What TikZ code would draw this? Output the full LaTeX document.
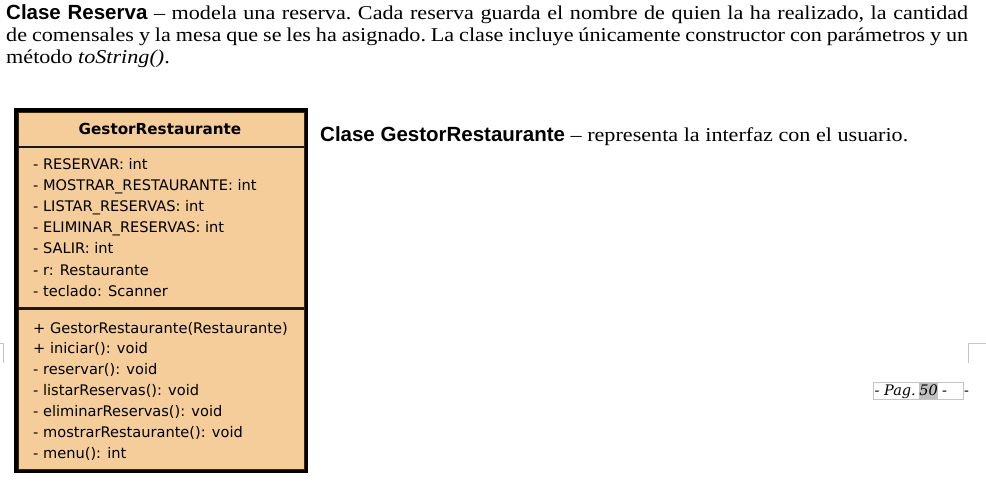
\documentclass[tikz,border=0pt]{standalone}
\usepackage{fontspec}
\setmainfont[FakeStretch=1.13]{Liberation Serif}
\newfontfamily\hsans{Liberation Sans}
\newfontfamily\umlfont{DejaVu Sans}
\newfontfamily\pgfont{DejaVu Serif}
\definecolor{peach}{HTML}{F5CD9A}
\definecolor{markgray}{HTML}{C4C4C4}
\definecolor{hlgray}{HTML}{C0C0C0}
\tikzset{
  bodytext/.style={inner sep=0pt, font=\fontsize{19.6}{22}\selectfont\frenchspacing},
  umltext/.style={inner sep=0pt, anchor=base west, font=\umlfont\fontsize{14.6}{16}\selectfont},
  umlhead/.style={inner sep=0pt, anchor=base, font=\umlfont\bfseries\fontsize{15.2}{16}\selectfont},
  sepline/.style={line width=2.4pt, black!90},
  pagemark/.style={draw=markgray, line width=1pt},
  pgtext/.style={inner sep=0pt, anchor=base west, font=\pgfont\itshape\fontsize{14.5}{16}\selectfont},
}
\begin{document}
\begin{tikzpicture}[x=1pt,y=-1pt]
\useasboundingbox (0,0) rectangle (986,487);

% intro paragraph
\node[bodytext, anchor=north west, text width=962pt, align=justify] (intro) at (6,4)
{{\hsans\bfseries\fontsize{20.5}{22}\selectfont Clase Reserva} -- modela una reserva. Cada reserva guarda el nombre de quien la ha realizado, la cantidad\linebreak de comensales y la mesa que se les ha asignado. La clase incluye únicamente constructor con parámetros y un\linebreak método \textit{toString()}.};

% UML class box
\node[fill=black, inner sep=0pt, minimum width=294pt, minimum height=365pt, anchor=north west] (frame) at (14,108) {};
\node[fill=peach, draw=black!70!brown, line width=0.8pt, inner sep=0pt, minimum width=286pt, minimum height=357pt, anchor=north west] (inner) at (18,112) {};
\coordinate (s1l) at (18,147);
\coordinate (s1r) at (304,147);
\coordinate (s2l) at (18,308.5);
\coordinate (s2r) at (304,308.5);
\draw[sepline] (s1l) -- (s1r);
\draw[sepline] (s2l) -- (s2r);

\node[umlhead] (head) at (160,135) {GestorRestaurante};

\node[umltext] (a1) at (33,169.0) {- RESERVAR: int};
\node[umltext] (a2) at (33,190.2) {- MOSTRAR\_RESTAURANTE: int};
\node[umltext] (a3) at (33,211.4) {- LISTAR\_RESERVAS: int};
\node[umltext] (a4) at (33,232.6) {- ELIMINAR\_RESERVAS: int};
\node[umltext] (a5) at (33,253.8) {- SALIR: int};
\node[umltext] (a6) at (33,275.0) {- r: Restaurante};
\node[umltext] (a7) at (33,296.2) {- teclado: Scanner};

\node[umltext] (m1) at (33,333.0) {+ GestorRestaurante(Restaurante)};
\node[umltext] (m2) at (33,353.9) {+ iniciar(): void};
\node[umltext] (m3) at (33,374.8) {- reservar(): void};
\node[umltext] (m4) at (33,395.7) {- listarReservas(): void};
\node[umltext] (m5) at (33,416.6) {- eliminarReservas(): void};
\node[umltext] (m6) at (33,437.5) {- mostrarRestaurante(): void};
\node[umltext] (m7) at (33,458.4) {- menu(): int};

% right description
\node[bodytext, anchor=base west] (desc) at (320,142)
{{\hsans\bfseries\fontsize{20.5}{22}\selectfont Clase GestorRestaurante} -- representa la interfaz con el usuario.};

% page corner marks
\coordinate (lm1) at (0,343.5);
\coordinate (lm2) at (3.5,343.5);
\coordinate (lm3) at (3.5,363);
\draw[pagemark] (lm1) -- (lm2) -- (lm3);
\coordinate (rm1) at (986,343.5);
\coordinate (rm2) at (968.5,343.5);
\coordinate (rm3) at (968.5,363);
\draw[pagemark] (rm1) -- (rm2) -- (rm3);

% page number
\node[fill=hlgray, inner sep=0pt, minimum width=19pt, minimum height=17pt, anchor=north west] (hl) at (919,382) {};
\node[draw=markgray, line width=0.8pt, inner sep=0pt, minimum width=90pt, minimum height=17pt, anchor=north west] (pgbox) at (873,382) {};
\node[pgtext] (pg1) at (874.5,395) {- Pag.};
\node[pgtext, anchor=base] (pg2) at (hl.center |- pg1.base) {50};
\node[pgtext] (pg3) at (942,395) {-};
\node[pgtext] (pg4) at (964,395) {-};
\end{tikzpicture}
\end{document}
